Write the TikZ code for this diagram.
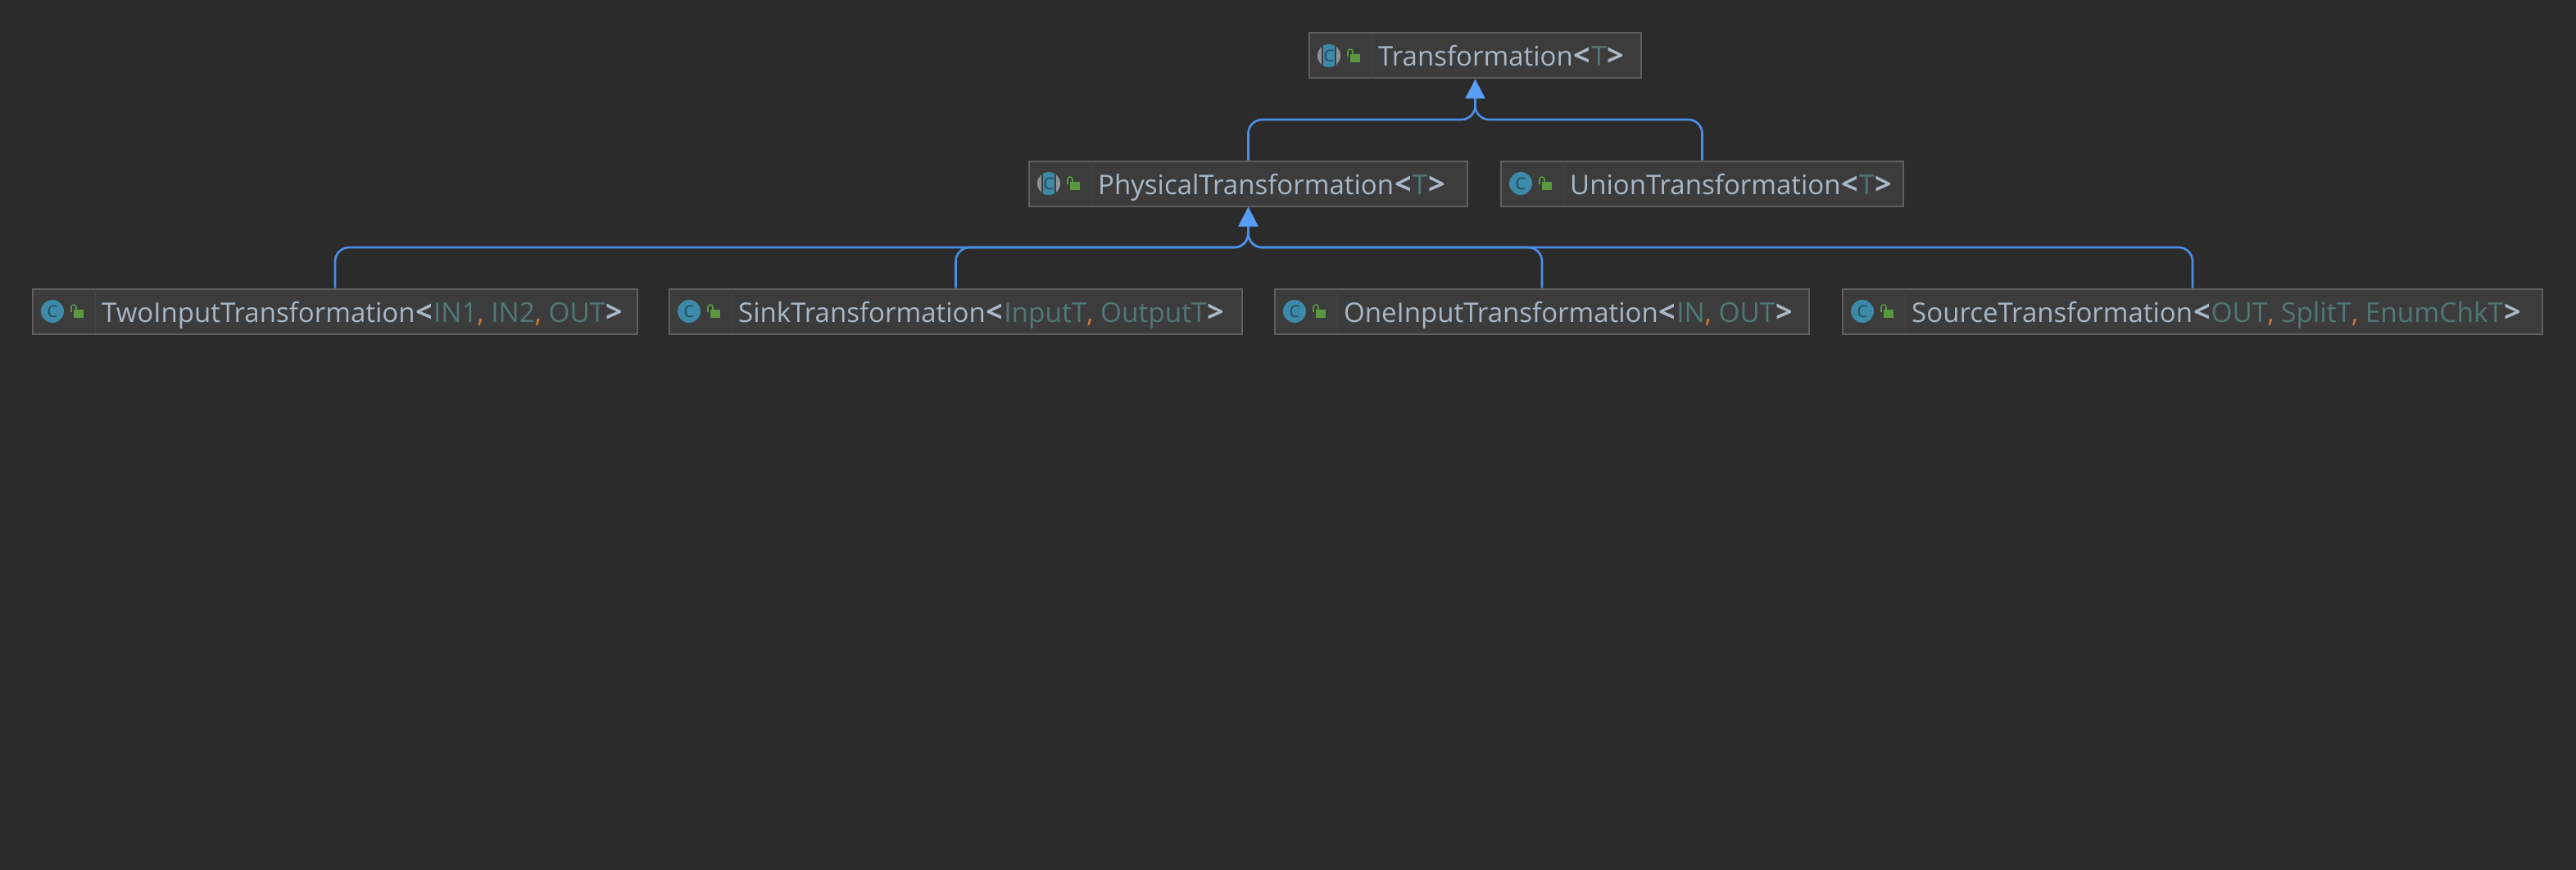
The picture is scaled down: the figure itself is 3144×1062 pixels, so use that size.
\documentclass[tikz,border=0pt]{standalone}
\usepackage{fontspec}
\setmainfont{Open Sans}
\usetikzlibrary{arrows.meta}
\definecolor{bgc}{HTML}{2B2B2B}
\definecolor{boxfill}{HTML}{3C3C3C}
\definecolor{boxedge}{HTML}{5F5F5F}
\definecolor{celledge}{HTML}{444444}
\definecolor{txtc}{HTML}{A9B7C6}
\definecolor{parc}{HTML}{507874}
\definecolor{comc}{HTML}{CC7832}
\definecolor{linkc}{HTML}{4A8FE7}
\definecolor{tipc}{HTML}{589DF6}
\definecolor{tealc}{HTML}{3D8AA8}
\definecolor{greyc}{HTML}{8C9299}
\definecolor{ctxt}{HTML}{24475A}
\definecolor{lockc}{HTML}{59983F}
\tikzset{
  classnode/.style={draw=boxedge,fill=boxfill,line width=2pt,inner sep=0pt,outer sep=1pt},
  classlabel/.style={anchor=base west,inner sep=0pt,text=txtc,font=\fontsize{33}{36}\selectfont},
  iconletter/.style={inner sep=0pt,text=ctxt,font=\fontsize{20}{20}\selectfont},
  link/.style={draw=linkc,line width=2.6pt,rounded corners=17pt},
  linktip/.style={-{Triangle[length=24pt,width=24pt,color=tipc]}},
}
\newcommand{\Lt}{\kern1pt{\fontsize{36}{36}\selectfont\bfseries<}\kern1pt}
\newcommand{\Gt}{\kern1pt{\fontsize{36}{36}\selectfont\bfseries>}}
\newcommand{\Par}[1]{\textcolor{parc}{\fontsize{33.4}{36}\selectfont #1}}
\newcommand{\Com}{\textcolor{comc}{,} }
% name, left, right, centre y, text
\newcommand{\classbox}[5]{%
  \pgfmathsetmacro{\bxw}{#3-#2}%
  \pgfmathsetmacro{\bxc}{(#3+#2)/2}%
  \node[classnode,minimum width=\bxw pt,minimum height=55pt] (#1) at (\bxc,#4) {};
  \draw[celledge,line width=1pt] (#2+76,#4-27) -- (#2+76,#4+27);
  \fill[tealc] (#2+24,#4) circle[radius=14];
  \node[iconletter] (#1c) at (#2+24,#4) {C};
  \fill[lockc] (#2+50,#4-2) rectangle (#2+62,#4+8);
  \draw[lockc,line width=1.6pt] (#2+47,#4+1) -- (#2+47,#4-5) arc[start angle=180,end angle=360,radius=3] -- (#2+53,#4-2);
  \node[classlabel] (#1t) at (#2+84,#4+13) {#5};
}
% abstract class icon: grey edges on the circle
\newcommand{\abstractmark}[2]{%
  \begin{scope}
    \clip (#1+24,#2) circle[radius=14];
    \fill[greyc] (#1+10,#2-14) rectangle (#1+16,#2+14);
    \fill[greyc] (#1+32,#2-14) rectangle (#1+38,#2+14);
    \draw[boxfill,line width=1.2pt] (#1+16,#2-14) -- (#1+16,#2+14);
    \draw[boxfill,line width=1.2pt] (#1+32,#2-14) -- (#1+32,#2+14);
  \end{scope}
}
\begin{document}
\begin{tikzpicture}[x=1pt,y=-1pt]
\useasboundingbox (0,0) rectangle (3144,1062);
\fill[bgc] (0,0) rectangle (3144,1062);

\classbox{trans}{1598}{2003}{68}{Transformation\Lt\Par{T}\Gt}
\abstractmark{1598}{68}
\classbox{phys}{1256}{1791}{224}{PhysicalTransformation\Lt\Par{T}\Gt}
\abstractmark{1256}{224}
\classbox{union}{1832}{2323}{224}{UnionTransformation\Lt\Par{T}\Gt}
\classbox{two}{40}{778}{380}{TwoInputTransformation\Lt\Par{IN1}\Com\Par{IN2}\Com\Par{OUT}\Gt}
\classbox{sink}{817}{1516}{380}{SinkTransformation\Lt\Par{InputT}\Com\Par{OutputT}\Gt}
\classbox{one}{1556}{2208}{380}{OneInputTransformation\Lt\Par{IN}\Com\Par{OUT}\Gt}
\classbox{source}{2249}{3103}{380}{SourceTransformation\Lt\Par{OUT}\Com\Par{SplitT}\Com\Par{EnumChkT}\Gt}

\coordinate (busa) at (0,146);
\coordinate (busb) at (0,302);
\coordinate (stema) at (0,120);
\coordinate (stemb) at (0,276);

\foreach \kid in {phys,union}
  \draw[link] (\kid.north) -- (\kid.north |- busa) -- (trans.south |- busa) -- (trans.south |- stema);
\foreach \kid in {two,sink,one,source}
  \draw[link] (\kid.north) -- (\kid.north |- busb) -- (phys.south |- busb) -- (phys.south |- stemb);
\draw[linktip,draw=linkc,line width=2.6pt] (trans.south |- stema) -- (trans.south);
\draw[linktip,draw=linkc,line width=2.6pt] (phys.south |- stemb) -- (phys.south);
\end{tikzpicture}
\end{document}
